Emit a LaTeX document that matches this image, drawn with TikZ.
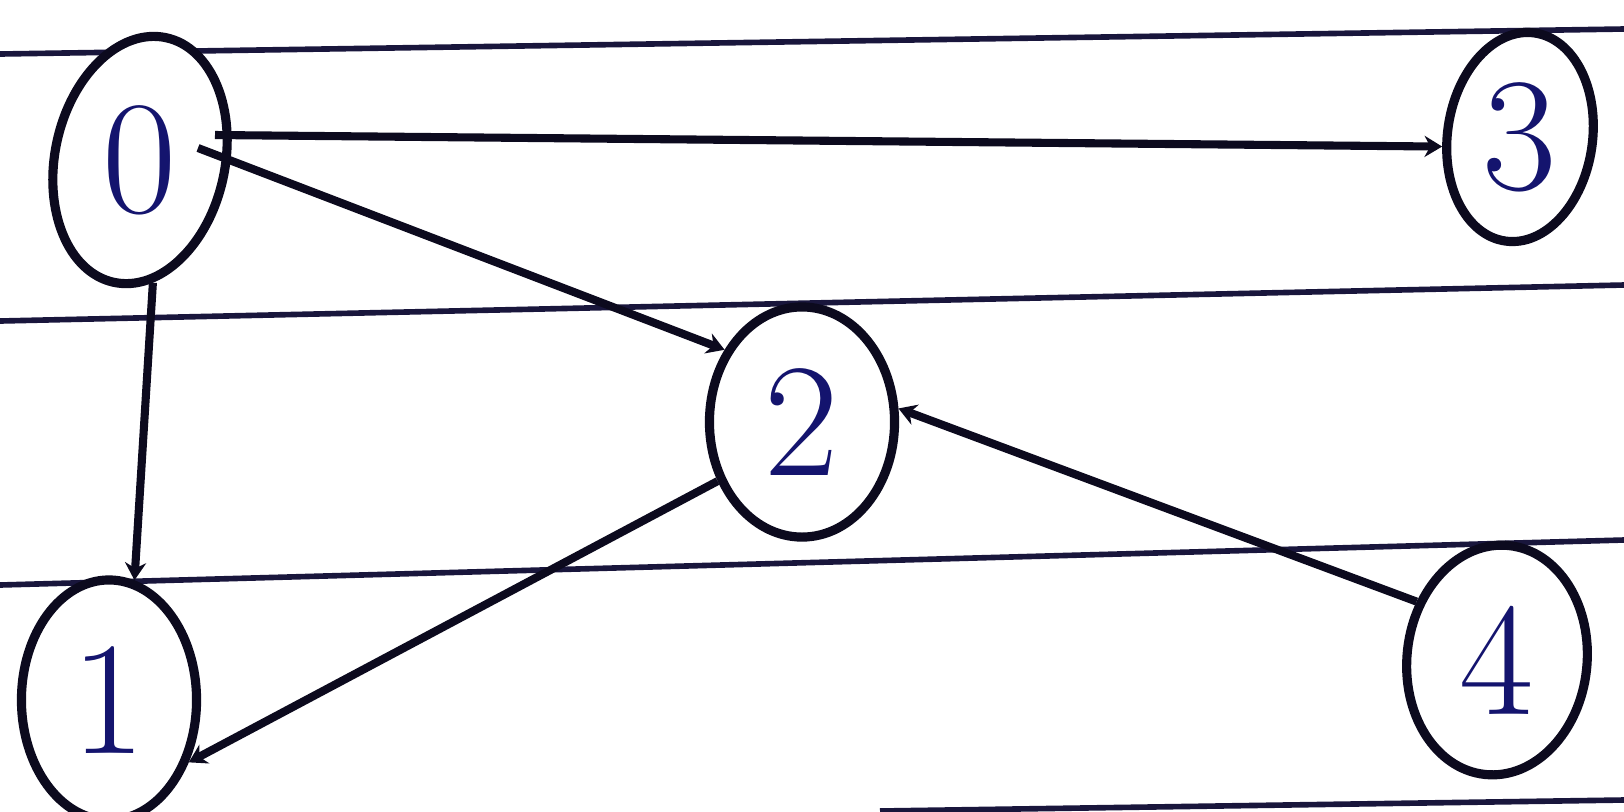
\documentclass[tikz,border=0pt]{standalone}
\usetikzlibrary{shapes.geometric,arrows.meta}
\definecolor{ink}{RGB}{12,10,30}
\definecolor{pen}{RGB}{20,20,110}
\definecolor{rule}{RGB}{25,22,60}
\begin{document}
\begin{tikzpicture}[x=0.01cm,y=-0.01cm,
  vert/.style={ellipse,draw=ink,line width=2.6pt,inner sep=0pt,text=pen,fill=white,
    font=\fontsize{46}{46}\selectfont},
  edge/.style={draw=ink,line width=2.3pt,-{Stealth[length=5pt,width=6pt]}},
  ruled/.style={draw=rule,line width=1.6pt}]
\fill[white] (0,0) rectangle (1624,811);
\useasboundingbox (0,0) rectangle (1624,811);
% ruled lines
\coordinate (r1a) at (0,54); \coordinate (r1b) at (1624,29);
\coordinate (r2a) at (0,321); \coordinate (r2b) at (1624,285);
\coordinate (r3a) at (0,585); \coordinate (r3b) at (1624,540);
\coordinate (r4a) at (880,811); \coordinate (r4b) at (1624,800);
\draw[ruled] (r1a) -- (r1b);
\draw[ruled] (r2a) -- (r2b);
\draw[ruled] (r3a) -- (r3b);
\draw[ruled] (r4a) -- (r4b);
% vertices
\node[vert,rotate=-12,minimum width=1.7cm,minimum height=2.5cm] (n0) at (140,160) {\rotatebox{12}{0}};
\node[vert,minimum width=1.45cm,minimum height=2.1cm,rotate=-8] (n3) at (1520,137) {\rotatebox{8}{3}};
\node[vert,minimum width=1.85cm,minimum height=2.3cm] (n2) at (802,422) {2};
\node[vert,minimum width=1.75cm,minimum height=2.4cm] (n1) at (109,700) {1};
\node[vert,minimum width=1.8cm,minimum height=2.3cm,rotate=-6] (n4) at (1497,660) {\rotatebox{6}{4}};
% edges
\coordinate (s03) at ([shift={(75,-25)}]n0.center);
\coordinate (s02) at ([shift={(58,-12)}]n0.center);
\draw[edge] (s03) -- (n3.195);
\draw[edge] (s02) -- (n2.137);
\draw[edge] (n0.-72) -- (n1.78);
\draw[edge] (n2.215) -- (n1.-38);
\draw[edge] (n4.150) -- (n2.8);
\end{tikzpicture}
\end{document}
